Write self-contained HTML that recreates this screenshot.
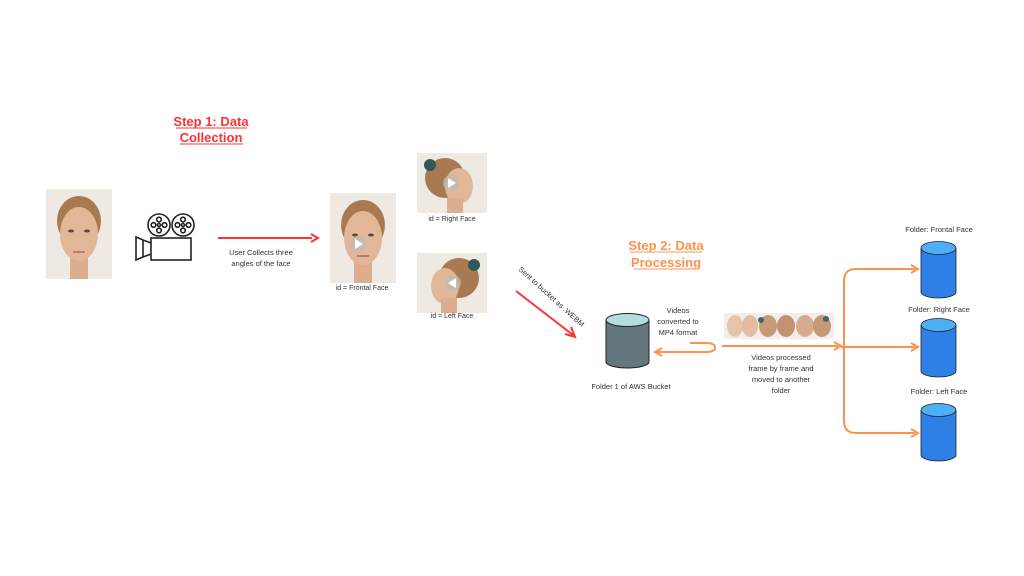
<!DOCTYPE html>
<html><head><meta charset="utf-8"><style>
html,body{margin:0;padding:0;background:#fff;width:1024px;height:576px;overflow:hidden}
svg text{font-family:"Liberation Sans",sans-serif}
</style></head><body>
<svg width="1024" height="576" viewBox="0 0 1024 576" xmlns="http://www.w3.org/2000/svg">
<defs>
<symbol id="front" viewBox="0 0 66 90">
<rect width="66" height="90" fill="#efe9e4"/>
<ellipse cx="33" cy="32" rx="22" ry="25" fill="#a97a52"/>
<rect x="24" y="60" width="18" height="30" fill="#dcae8f"/>
<ellipse cx="33" cy="45" rx="19" ry="27" fill="#e1b797"/>
<ellipse cx="25" cy="42" rx="3" ry="1.5" fill="#5b4a40"/>
<ellipse cx="41" cy="42" rx="3" ry="1.5" fill="#5b4a40"/>
<rect x="27" y="62" width="12" height="2" fill="#b87c70"/>
</symbol>
<symbol id="side" viewBox="0 0 70 60">
<rect width="70" height="60" fill="#efe9e4"/>
<ellipse cx="28" cy="25" rx="20" ry="20" fill="#a97a52"/>
<ellipse cx="42" cy="33" rx="14" ry="18" fill="#e1b797"/>
<rect x="30" y="45" width="16" height="15" fill="#dcae8f"/>
<circle cx="13" cy="12" r="6" fill="#2f5a5a"/>
<circle cx="34" cy="30" r="8" fill="#bbb" opacity="0.7"/>
<path d="M31,25 L39,30 L31,35Z" fill="#fff"/>
</symbol>
</defs>

<text x="211" y="126" font-size="13" font-weight="bold" fill="#ff3131" text-anchor="middle">Step 1: Data</text>
<text x="211" y="142" font-size="13" font-weight="bold" fill="#ff3131" text-anchor="middle">Collection</text>
<line x1="176" y1="128" x2="247" y2="128" stroke="#ff3131" stroke-width="1"/>
<line x1="180" y1="144" x2="243" y2="144" stroke="#ff3131" stroke-width="1"/>

<use href="#front" x="46" y="189" width="66" height="90"/>

<g fill="none" stroke="#222" stroke-width="1.6">
<circle cx="159" cy="225" r="11"/><circle cx="183" cy="225" r="11"/>
<circle cx="159" cy="225" r="1.5"/><circle cx="183" cy="225" r="1.5"/>
<circle cx="159" cy="219.5" r="2.3"/><circle cx="159" cy="230.5" r="2.3"/><circle cx="153.5" cy="225" r="2.3"/><circle cx="164.5" cy="225" r="2.3"/>
<circle cx="183" cy="219.5" r="2.3"/><circle cx="183" cy="230.5" r="2.3"/><circle cx="177.5" cy="225" r="2.3"/><circle cx="188.5" cy="225" r="2.3"/>
<rect x="151" y="238" width="40" height="22"/>
<path d="M151,243 L143,240 L136,237 L136,260 L143,257 L151,254"/>
<line x1="143" y1="240" x2="143" y2="257"/>
</g>

<line x1="218" y1="238" x2="312" y2="238" stroke="#ff3131" stroke-width="2"/>
<path d="M311,234 L318,238 L311,242" fill="none" stroke="#ff3131" stroke-width="2"/>
<text x="261" y="255" font-size="7.5" fill="#333" text-anchor="middle">User Collects three</text>
<text x="261" y="266" font-size="7.5" fill="#333" text-anchor="middle">angles of the face</text>

<use href="#front" x="330" y="193" width="66" height="90"/>
<circle cx="358" cy="244" r="8" fill="#bbb" opacity="0.7"/><path d="M355,239 L363,244 L355,249Z" fill="#fff"/>
<text x="362" y="290" font-size="7" fill="#333" text-anchor="middle">id = Frontal Face</text>

<use href="#side" x="417" y="153" width="70" height="60"/>
<text x="452" y="221" font-size="7" fill="#333" text-anchor="middle">id = Right Face</text>
<g transform="translate(904,0) scale(-1,1)"><use href="#side" x="417" y="253" width="70" height="60"/></g>
<text x="452" y="318" font-size="7" fill="#333" text-anchor="middle">id = Left Face</text>

<text x="518" y="270" font-size="7.5" fill="#333" transform="rotate(42 518 270)">Sent to bucket as .WEBM</text>
<line x1="516" y1="291" x2="573" y2="335" stroke="#ff3131" stroke-width="2"/>
<path d="M565,334 L575,337 L571,327" fill="none" stroke="#ff3131" stroke-width="2"/>

<text x="666" y="250" font-size="13" font-weight="bold" fill="#ff914d" text-anchor="middle">Step 2: Data</text>
<text x="666" y="267" font-size="13" font-weight="bold" fill="#ff914d" text-anchor="middle">Processing</text>
<line x1="630" y1="252" x2="702" y2="252" stroke="#ff914d" stroke-width="1"/>
<line x1="634" y1="269" x2="699" y2="269" stroke="#ff914d" stroke-width="1"/>

<path d="M606,320 L606,362 A21.5,6 0 0 0 649,362 L649,320" fill="#63777d" stroke="#222" stroke-width="1"/>
<ellipse cx="627.5" cy="320" rx="21.5" ry="6.5" fill="#b3dedf" stroke="#222" stroke-width="1"/>
<text x="631" y="389" font-size="7.5" fill="#333" text-anchor="middle">Folder 1 of AWS Bucket</text>

<text x="678" y="313" font-size="7.5" fill="#333" text-anchor="middle">Videos</text>
<text x="678" y="324" font-size="7.5" fill="#333" text-anchor="middle">converted to</text>
<text x="678" y="335" font-size="7.5" fill="#333" text-anchor="middle">MP4 format</text>
<path d="M706,343 Q715,343 715,347.5 Q715,352 706,352 L656,352" fill="none" stroke="#ff914d" stroke-width="2"/>
<path d="M662,348 L655,352 L662,356" fill="none" stroke="#ff914d" stroke-width="2"/>
<line x1="690" y1="343" x2="706" y2="343" stroke="#ff914d" stroke-width="2"/>

<g>
<rect x="724" y="313" width="110" height="26" fill="#f3eeea"/>
<ellipse cx="735" cy="326" rx="8" ry="11" fill="#e6c4aa"/>
<ellipse cx="750" cy="326" rx="8" ry="11" fill="#e2bda2"/>
<ellipse cx="768" cy="326" rx="9" ry="11" fill="#c99a78"/>
<ellipse cx="786" cy="326" rx="9" ry="11" fill="#c39272"/>
<ellipse cx="805" cy="326" rx="9" ry="11" fill="#d7ab8d"/>
<ellipse cx="822" cy="326" rx="9" ry="11" fill="#c79877"/>
<circle cx="761" cy="320" r="3" fill="#3d6a6e"/><circle cx="826" cy="319" r="3" fill="#3d6a6e"/>
</g>

<line x1="722" y1="346" x2="838" y2="346" stroke="#ff914d" stroke-width="2"/>
<path d="M834,342 L841,346 L834,350" fill="none" stroke="#ff914d" stroke-width="2"/>
<text x="781" y="360" font-size="7.5" fill="#333" text-anchor="middle">Videos processed</text>
<text x="781" y="371" font-size="7.5" fill="#333" text-anchor="middle">frame by frame and</text>
<text x="781" y="382" font-size="7.5" fill="#333" text-anchor="middle">moved to another</text>
<text x="781" y="393" font-size="7.5" fill="#333" text-anchor="middle">folder</text>

<g fill="none" stroke="#ff914d" stroke-width="2">
<path d="M915,269 L856,269 Q844,269 844,281 L844,421 Q844,433 856,433 L915,433"/>
<line x1="841" y1="347" x2="915" y2="347"/>
<path d="M911,265 L918,269 L911,273"/>
<path d="M911,343 L918,347 L911,351"/>
<path d="M911,429 L918,433 L911,437"/>
</g>

<g stroke="#222" stroke-width="0.8">
<path d="M921,248 L921,292 A17.5,6 0 0 0 956,292 L956,248" fill="#2e7fe6"/>
<ellipse cx="938.5" cy="248" rx="17.5" ry="6.5" fill="#4db0f4"/>
<path d="M921,325 L921,371 A17.5,6 0 0 0 956,371 L956,325" fill="#2e7fe6"/>
<ellipse cx="938.5" cy="325" rx="17.5" ry="6.5" fill="#4db0f4"/>
<path d="M921,410 L921,455 A17.5,6 0 0 0 956,455 L956,410" fill="#2e7fe6"/>
<ellipse cx="938.5" cy="410" rx="17.5" ry="6.5" fill="#4db0f4"/>
</g>
<text x="939" y="232" font-size="7.5" fill="#333" text-anchor="middle">Folder: Frontal Face</text>
<text x="939" y="312" font-size="7.5" fill="#333" text-anchor="middle">Folder: Right Face</text>
<text x="939" y="394" font-size="7.5" fill="#333" text-anchor="middle">Folder: Left Face</text>
</svg>
</body></html>
